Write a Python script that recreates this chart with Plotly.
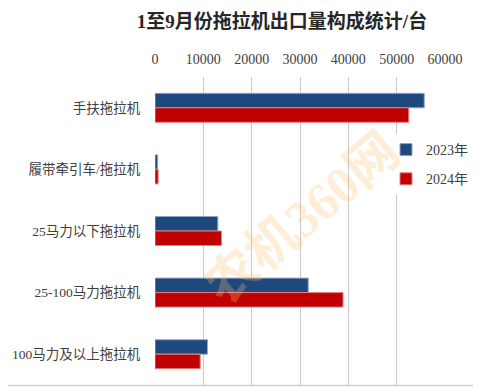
import plotly.graph_objects as go

categories = ["手扶拖拉机", "履带牵引车/拖拉机", "25马力以下拖拉机", "25-100马力拖拉机", "100马力及以上拖拉机"]
values_2023 = [55700, 550, 13000, 31700, 10850]
values_2024 = [52500, 650, 13750, 38900, 9350]
series_names = ["2023年", "2024年"]
x_ticks = [0, 10000, 20000, 30000, 40000, 50000, 60000]

font_main = "Liberation Serif, Noto Sans CJK SC, sans-serif"

# page body has 8px default margin -> shift everything
OFF = 8
W, H = 481 - OFF, 387 - OFF
L, R, T, B = 155 - OFF, 44 - OFF, 77 - OFF, 10 - OFF
pw = W - L - R
ph = H - T - B

def px2x(px):
    return (px - OFF - L) / pw

def py2y(py):
    return (H - B - (py - OFF)) / ph

fig = go.Figure()
fig.add_trace(go.Bar(
    y=categories, x=values_2023, orientation="h", name=series_names[0],
    marker=dict(color="#1F497D", line=dict(color="#8EA6C6", width=1)),
    legendgroup="a",
))
fig.add_trace(go.Bar(
    y=categories, x=values_2024, orientation="h", name=series_names[1],
    marker=dict(color="#C00000", line=dict(color="#E08080", width=1)),
    legendgroup="b",
))

border = "#D0D0D0"
fig.update_layout(
    width=W, height=H,
    margin=dict(l=L, r=R, t=T, b=B, autoexpand=False),
    paper_bgcolor="white", plot_bgcolor="white",
    barmode="group", bargap=0.53, bargroupgap=0,
    font=dict(family=font_main, size=14, color="#404040"),
    title=dict(text="1至9月份拖拉机出口量构成统计/台", x=(282 - OFF) / W, xanchor="center",
               y=1 - (21 - OFF) / H, yanchor="middle",
               font=dict(family=font_main, size=19, color="#262626", weight="bold")),
    xaxis=dict(side="top", range=[0, 60000], tickvals=x_ticks,
               ticktext=[str(v) for v in x_ticks], automargin=False,
               showgrid=True, gridcolor="#C8C8C8", gridwidth=1,
               zeroline=False, showline=False,
               tickfont=dict(size=14, color="#404040"),
               ticks="outside", ticklen=6, tickcolor="rgba(0,0,0,0)"),
    yaxis=dict(autorange="reversed", showgrid=False, zeroline=False, showline=False,
               automargin=False,
               tickfont=dict(size=13.5, color="#404040"),
               ticks="outside", ticklen=11, tickcolor="rgba(0,0,0,0)"),
    legend=dict(x=px2x(386), y=py2y(134), xanchor="left", yanchor="top",
                bgcolor="white", traceorder="grouped", tracegroupgap=8,
                font=dict(size=14, color="#404040"), itemwidth=30),
    shapes=[
        dict(type="line", xref="paper", yref="paper",
             x0=px2x(479.5), x1=px2x(479.5), y0=py2y(386), y1=py2y(8),
             line=dict(color=border, width=1.5), layer="above"),
        dict(type="line", xref="paper", yref="paper",
             x0=px2x(8), x1=px2x(479.5), y0=py2y(385.5), y1=py2y(385.5),
             line=dict(color=border, width=1.5), layer="above"),
    ],
    annotations=[dict(text="农机360网", xref="paper", yref="paper",
                      x=px2x(302), y=py2y(218), showarrow=False, textangle=-40,
                      font=dict(family="Liberation Serif, Noto Sans CJK SC", size=52,
                                color="rgba(250,190,110,0.28)", weight="bold"))],
)

fig.write_html("out.html")
